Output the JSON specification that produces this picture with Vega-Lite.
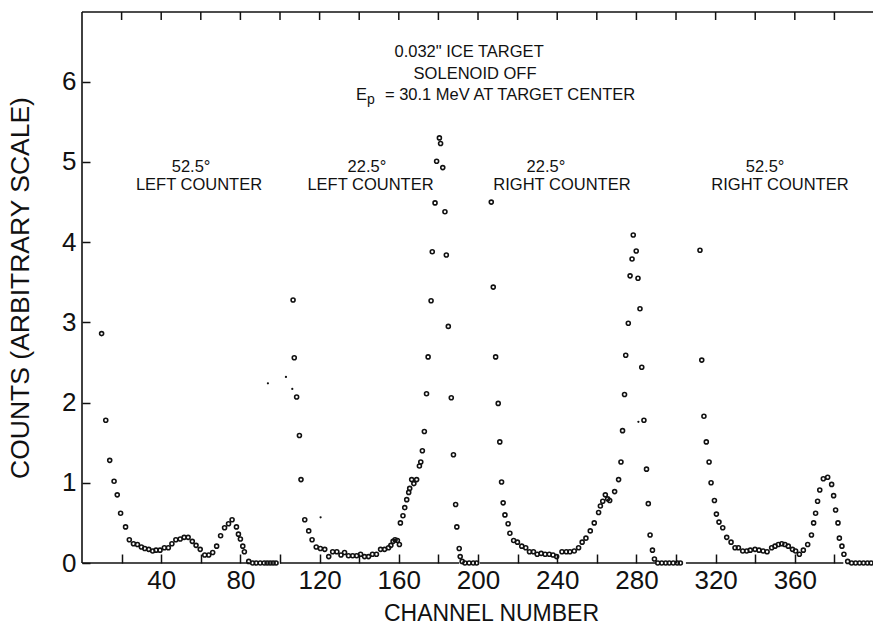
{
  "$schema": "https://vega.github.io/schema/vega-lite/v6.json",
  "width": 794,
  "height": 551,
  "autosize": {"type": "none"},
  "padding": {"left": 82, "top": 12, "right": 0, "bottom": 62},
  "background": "white",
  "config": {
    "view": {"stroke": null},
    "font": "Liberation Sans",
    "text": {"font": "Liberation Sans", "color": "#111"}
  },
  "datasets": {
    "base": [
      {"x0": 0, "x1": 84.5},
      {"x0": 100, "x1": 190.5},
      {"x0": 201, "x1": 289.5},
      {"x0": 305, "x1": 384.5}
    ],
    "topticks": [
      {"ch": 20}, {"ch": 40}, {"ch": 60}, {"ch": 80}, {"ch": 100}, {"ch": 120}, {"ch": 140},
      {"ch": 160}, {"ch": 180}, {"ch": 200}, {"ch": 220}, {"ch": 240}, {"ch": 260}, {"ch": 280},
      {"ch": 300}, {"ch": 320}, {"ch": 340}, {"ch": 360}, {"ch": 380}, {"ch": 400}
    ],
    "pts": [
      {"ch": 9.9, "v": 2.86}, {"ch": 12, "v": 1.78}, {"ch": 14, "v": 1.28}, {"ch": 16.2, "v": 1.02},
      {"ch": 17.8, "v": 0.85}, {"ch": 19.5, "v": 0.62}, {"ch": 22, "v": 0.45}, {"ch": 23.9, "v": 0.29},
      {"ch": 26, "v": 0.24}, {"ch": 28, "v": 0.23}, {"ch": 30, "v": 0.2}, {"ch": 31.7, "v": 0.18},
      {"ch": 33.7, "v": 0.17}, {"ch": 35.7, "v": 0.15}, {"ch": 37.4, "v": 0.16}, {"ch": 39.4, "v": 0.16},
      {"ch": 41.6, "v": 0.19}, {"ch": 43.6, "v": 0.19}, {"ch": 45.4, "v": 0.24}, {"ch": 47.4, "v": 0.29},
      {"ch": 49.6, "v": 0.3}, {"ch": 51.6, "v": 0.32}, {"ch": 53.6, "v": 0.32}, {"ch": 55.7, "v": 0.27},
      {"ch": 57.6, "v": 0.22}, {"ch": 59.7, "v": 0.17}, {"ch": 62, "v": 0.1}, {"ch": 64, "v": 0.1},
      {"ch": 66, "v": 0.13}, {"ch": 68, "v": 0.21}, {"ch": 70, "v": 0.34}, {"ch": 72, "v": 0.44},
      {"ch": 74, "v": 0.49}, {"ch": 75.8, "v": 0.54}, {"ch": 78, "v": 0.45}, {"ch": 79, "v": 0.36},
      {"ch": 80, "v": 0.3}, {"ch": 81.2, "v": 0.21}, {"ch": 82, "v": 0.14}, {"ch": 84.2, "v": 0.02},
      {"ch": 86.2, "v": 0}, {"ch": 88, "v": 0}, {"ch": 90, "v": 0}, {"ch": 92, "v": 0},
      {"ch": 93.5, "v": 0}, {"ch": 95, "v": 0}, {"ch": 96.5, "v": 0}, {"ch": 98, "v": 0},

      {"ch": 106.6, "v": 3.28}, {"ch": 107.2, "v": 2.56}, {"ch": 108.4, "v": 2.07}, {"ch": 109.8, "v": 1.59},
      {"ch": 110.6, "v": 1.04}, {"ch": 112.5, "v": 0.54}, {"ch": 114.5, "v": 0.4}, {"ch": 116.2, "v": 0.29},
      {"ch": 118.3, "v": 0.2}, {"ch": 120.4, "v": 0.18}, {"ch": 122.6, "v": 0.17}, {"ch": 124.6, "v": 0.08},
      {"ch": 126.6, "v": 0.14}, {"ch": 128.7, "v": 0.14}, {"ch": 130.8, "v": 0.1}, {"ch": 132.6, "v": 0.13},
      {"ch": 134.6, "v": 0.09}, {"ch": 136.7, "v": 0.09}, {"ch": 138.7, "v": 0.09}, {"ch": 140.7, "v": 0.11},
      {"ch": 142.7, "v": 0.08}, {"ch": 144.7, "v": 0.08}, {"ch": 146.7, "v": 0.11}, {"ch": 148.7, "v": 0.11},
      {"ch": 150.8, "v": 0.17}, {"ch": 152.8, "v": 0.17}, {"ch": 154.8, "v": 0.19}, {"ch": 156, "v": 0.22},
      {"ch": 157.1, "v": 0.27}, {"ch": 158.1, "v": 0.29}, {"ch": 159.3, "v": 0.28}, {"ch": 160.3, "v": 0.23},
      {"ch": 160.8, "v": 0.5}, {"ch": 162.1, "v": 0.59}, {"ch": 163, "v": 0.69}, {"ch": 164, "v": 0.79},
      {"ch": 165, "v": 0.88}, {"ch": 165.5, "v": 0.93}, {"ch": 166.5, "v": 1.04}, {"ch": 167.6, "v": 0.99},
      {"ch": 169, "v": 1.04}, {"ch": 170.4, "v": 1.21}, {"ch": 171.1, "v": 1.26}, {"ch": 171.9, "v": 1.4},
      {"ch": 172.9, "v": 1.64}, {"ch": 174, "v": 2.11}, {"ch": 174.8, "v": 2.57}, {"ch": 176.3, "v": 3.27},
      {"ch": 176.9, "v": 3.88}, {"ch": 178.3, "v": 4.49}, {"ch": 179.1, "v": 5.01}, {"ch": 180.5, "v": 5.3},
      {"ch": 181.1, "v": 5.23}, {"ch": 182.2, "v": 4.93}, {"ch": 183.3, "v": 4.38}, {"ch": 184, "v": 3.84},
      {"ch": 185, "v": 2.95}, {"ch": 186.5, "v": 2.06}, {"ch": 187.6, "v": 1.35}, {"ch": 188.7, "v": 0.73},
      {"ch": 189.3, "v": 0.45}, {"ch": 190.5, "v": 0.18}, {"ch": 191, "v": 0.08}, {"ch": 192, "v": 0.02},
      {"ch": 193.4, "v": 0}, {"ch": 195.5, "v": 0}, {"ch": 197.6, "v": 0}, {"ch": 199.3, "v": 0},

      {"ch": 206.7, "v": 4.5}, {"ch": 207.7, "v": 3.44}, {"ch": 208.9, "v": 2.57}, {"ch": 210.2, "v": 1.99},
      {"ch": 211, "v": 1.51}, {"ch": 211.9, "v": 1.01}, {"ch": 212.7, "v": 0.75}, {"ch": 213.6, "v": 0.6},
      {"ch": 215.2, "v": 0.49}, {"ch": 216.1, "v": 0.37}, {"ch": 218, "v": 0.28}, {"ch": 219.9, "v": 0.26},
      {"ch": 222.1, "v": 0.21}, {"ch": 224.1, "v": 0.19}, {"ch": 226, "v": 0.14}, {"ch": 228, "v": 0.14},
      {"ch": 229.9, "v": 0.11}, {"ch": 231.9, "v": 0.12}, {"ch": 233.9, "v": 0.11}, {"ch": 236, "v": 0.11},
      {"ch": 237.9, "v": 0.1}, {"ch": 239.7, "v": 0.08}, {"ch": 242.4, "v": 0.14}, {"ch": 244.6, "v": 0.14},
      {"ch": 246.4, "v": 0.14}, {"ch": 248.6, "v": 0.15}, {"ch": 250.8, "v": 0.19}, {"ch": 252.6, "v": 0.26},
      {"ch": 254.5, "v": 0.31}, {"ch": 256.7, "v": 0.4}, {"ch": 258.7, "v": 0.5}, {"ch": 260.9, "v": 0.63},
      {"ch": 261.8, "v": 0.71}, {"ch": 263, "v": 0.77}, {"ch": 264.3, "v": 0.85}, {"ch": 265.5, "v": 0.8},
      {"ch": 266.5, "v": 0.78}, {"ch": 269, "v": 0.89}, {"ch": 271, "v": 1.04}, {"ch": 272.2, "v": 1.26},
      {"ch": 273, "v": 1.65}, {"ch": 274, "v": 2.1}, {"ch": 274.6, "v": 2.59}, {"ch": 275.9, "v": 2.99},
      {"ch": 276.8, "v": 3.58}, {"ch": 277.8, "v": 3.79}, {"ch": 278.4, "v": 4.09}, {"ch": 279.9, "v": 3.89},
      {"ch": 280.8, "v": 3.55}, {"ch": 281.8, "v": 3.17}, {"ch": 282.7, "v": 2.44}, {"ch": 283.8, "v": 1.78},
      {"ch": 285.1, "v": 1.17}, {"ch": 286, "v": 0.74}, {"ch": 286.9, "v": 0.35}, {"ch": 288.1, "v": 0.16},
      {"ch": 289.1, "v": 0.05}, {"ch": 290.8, "v": 0}, {"ch": 292.8, "v": 0}, {"ch": 294.8, "v": 0},
      {"ch": 296.6, "v": 0}, {"ch": 298.6, "v": 0}, {"ch": 300.6, "v": 0}, {"ch": 302.2, "v": 0},

      {"ch": 312.1, "v": 3.9}, {"ch": 313, "v": 2.53}, {"ch": 314.1, "v": 1.83}, {"ch": 315.3, "v": 1.51},
      {"ch": 316.7, "v": 1.26}, {"ch": 317.7, "v": 1.0}, {"ch": 319.4, "v": 0.78}, {"ch": 320.4, "v": 0.61},
      {"ch": 321.7, "v": 0.51}, {"ch": 323.6, "v": 0.44}, {"ch": 325.6, "v": 0.32}, {"ch": 327.8, "v": 0.26},
      {"ch": 329.8, "v": 0.19}, {"ch": 331.5, "v": 0.19}, {"ch": 333.7, "v": 0.15}, {"ch": 335.7, "v": 0.15},
      {"ch": 337.5, "v": 0.16}, {"ch": 339.9, "v": 0.17}, {"ch": 341.9, "v": 0.16}, {"ch": 344, "v": 0.15},
      {"ch": 346, "v": 0.14}, {"ch": 348.3, "v": 0.19}, {"ch": 350, "v": 0.21}, {"ch": 351.7, "v": 0.23},
      {"ch": 353.4, "v": 0.24}, {"ch": 355, "v": 0.23}, {"ch": 356.7, "v": 0.21}, {"ch": 358.8, "v": 0.17},
      {"ch": 360.4, "v": 0.15}, {"ch": 362.3, "v": 0.11}, {"ch": 364.3, "v": 0.16}, {"ch": 366.5, "v": 0.23},
      {"ch": 368.4, "v": 0.35}, {"ch": 369.5, "v": 0.5}, {"ch": 370.5, "v": 0.62}, {"ch": 371.5, "v": 0.77},
      {"ch": 372.6, "v": 0.91}, {"ch": 374.4, "v": 1.05}, {"ch": 376.6, "v": 1.07}, {"ch": 378.6, "v": 0.98},
      {"ch": 379.6, "v": 0.84}, {"ch": 380.6, "v": 0.66}, {"ch": 381.8, "v": 0.5}, {"ch": 382.5, "v": 0.31},
      {"ch": 383.8, "v": 0.21}, {"ch": 384.8, "v": 0.11}, {"ch": 386.7, "v": 0.02}, {"ch": 388.7, "v": 0},
      {"ch": 390.7, "v": 0}, {"ch": 392.7, "v": 0}, {"ch": 394.7, "v": 0}, {"ch": 396.7, "v": 0},
      {"ch": 398.5, "v": 0}
    ],
    "specks": [
      {"ch": 93.9, "v": 2.24}, {"ch": 103, "v": 2.32}, {"ch": 106.2, "v": 2.17},
      {"ch": 120.5, "v": 0.57}, {"ch": 281, "v": 1.76}
    ],
    "ctext": [
      {"ch": 195.5, "v": 6.31, "t": "0.032\" ICE TARGET"},
      {"ch": 198.5, "v": 6.04, "t": "SOLENOID OFF"},
      {"ch": 55.1, "v": 4.87, "t": "52.5°"},
      {"ch": 59.1, "v": 4.65, "t": "LEFT COUNTER"},
      {"ch": 143.9, "v": 4.87, "t": "22.5°"},
      {"ch": 145.7, "v": 4.65, "t": "LEFT COUNTER"},
      {"ch": 234.3, "v": 4.87, "t": "22.5°"},
      {"ch": 242.4, "v": 4.65, "t": "RIGHT COUNTER"},
      {"ch": 345, "v": 4.87, "t": "52.5°"},
      {"ch": 352.5, "v": 4.65, "t": "RIGHT COUNTER"}
    ],
    "ltext": [
      {"ch": 138.4, "v": 5.77, "t": "E"},
      {"ch": 153, "v": 5.77, "t": "= 30.1 MeV AT TARGET CENTER"}
    ],
    "stext": [
      {"ch": 143.9, "v": 5.72, "t": "p"}
    ]
  },
  "layer": [
    {
      "data": {"name": "pts"},
      "mark": {"type": "point", "shape": "circle", "filled": false, "size": 16, "strokeWidth": 1.6, "color": "#111", "opacity": 1},
      "encoding": {
        "x": {
          "field": "ch", "type": "quantitative",
          "scale": {"domain": [0, 401], "nice": false, "zero": false},
          "axis": {
            "orient": "bottom", "offset": -9, "values": [20, 40, 60, 80, 100, 120, 140, 160, 180, 200, 220, 240, 260, 280, 300, 320, 340, 360, 380, 400],
            "labelExpr": "datum.value % 40 == 0 && datum.value < 400 ? datum.label : ''",
            "domain": false, "ticks": true, "tickSize": 9, "tickColor": "#111", "tickWidth": 1.5, "grid": false,
            "labelFontSize": 26, "labelColor": "#111", "labelPadding": 4, "labelFont": "Liberation Sans",
            "title": "CHANNEL NUMBER", "titleFontSize": 23, "titleFontWeight": "normal", "titleColor": "#111",
            "titlePadding": 9, "titleFont": "Liberation Sans", "titleX": 409
          }
        },
        "y": {
          "field": "v", "type": "quantitative",
          "scale": {"domain": [0, 6.87], "nice": false, "zero": false},
          "axis": {
            "orient": "left", "offset": -8, "format": "d",
            "values": [0, 1, 2, 3, 4, 5, 6], "domain": false,
            "ticks": true, "tickSize": 8, "tickColor": "#111", "tickWidth": 1.5, "grid": false,
            "labelFontSize": 26, "labelColor": "#111", "labelPadding": 6, "labelFont": "Liberation Sans",
            "title": "COUNTS (ARBITRARY SCALE)", "titleFontSize": 26.5, "titleFontWeight": "normal",
            "titleColor": "#111", "titlePadding": 27, "titleFont": "Liberation Sans"
          }
        }
      }
    },
    {
      "data": {"name": "base"},
      "mark": {"type": "rule", "color": "#111", "strokeWidth": 1.6},
      "encoding": {
        "x": {"field": "x0", "type": "quantitative"},
        "x2": {"field": "x1"},
        "y": {"datum": 0, "type": "quantitative"}
      }
    },
    {
      "data": {"name": "topticks"},
      "mark": {"type": "rule", "color": "#111", "strokeWidth": 1.5},
      "encoding": {
        "x": {"field": "ch", "type": "quantitative"},
        "y": {"datum": 6.87, "type": "quantitative"},
        "y2": {"datum": 6.77}
      }
    },
    {
      "data": {"values": [{"a": 0, "b": 401}]},
      "mark": {"type": "rule", "color": "#111", "strokeWidth": 1.6},
      "encoding": {
        "x": {"field": "a", "type": "quantitative"},
        "x2": {"field": "b"},
        "y": {"datum": 6.87, "type": "quantitative"}
      }
    },
    {
      "data": {"values": [{"a": 0, "lo": 0, "hi": 6.87}]},
      "mark": {"type": "rule", "color": "#111", "strokeWidth": 1.6},
      "encoding": {
        "x": {"field": "a", "type": "quantitative"},
        "y": {"field": "lo", "type": "quantitative"},
        "y2": {"field": "hi"}
      }
    },
    {
      "data": {"name": "specks"},
      "mark": {"type": "point", "shape": "circle", "filled": true, "size": 5, "color": "#111", "opacity": 1},
      "encoding": {
        "x": {"field": "ch", "type": "quantitative"},
        "y": {"field": "v", "type": "quantitative"}
      }
    },
    {
      "data": {"name": "ctext"},
      "mark": {"type": "text", "align": "center", "baseline": "alphabetic", "fontSize": 16.5, "font": "Liberation Sans", "color": "#111"},
      "encoding": {
        "x": {"field": "ch", "type": "quantitative"},
        "y": {"field": "v", "type": "quantitative"},
        "text": {"field": "t"}
      }
    },
    {
      "data": {"name": "ltext"},
      "mark": {"type": "text", "align": "left", "baseline": "alphabetic", "fontSize": 16.5, "font": "Liberation Sans", "color": "#111"},
      "encoding": {
        "x": {"field": "ch", "type": "quantitative"},
        "y": {"field": "v", "type": "quantitative"},
        "text": {"field": "t"}
      }
    },
    {
      "data": {"name": "stext"},
      "mark": {"type": "text", "align": "left", "baseline": "alphabetic", "fontSize": 14, "font": "Liberation Sans", "color": "#111"},
      "encoding": {
        "x": {"field": "ch", "type": "quantitative"},
        "y": {"field": "v", "type": "quantitative"},
        "text": {"field": "t"}
      }
    }
  ]
}
